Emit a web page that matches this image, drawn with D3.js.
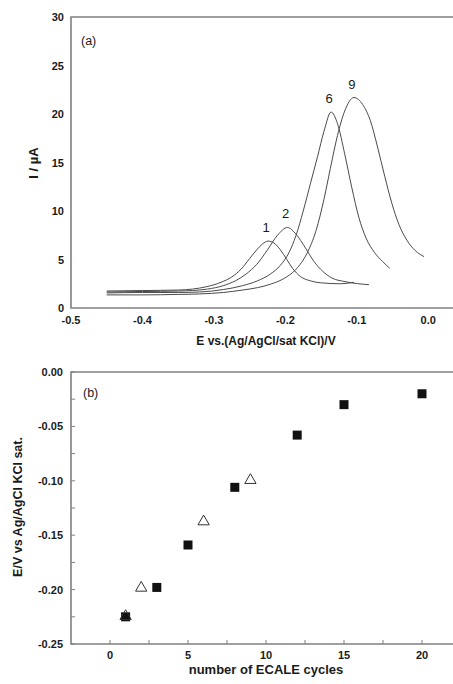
<!DOCTYPE html>
<html>
<head>
<meta charset="utf-8">
<script src="https://cdn.jsdelivr.net/npm/d3@7"></script>
<style>
  body { margin: 0; background: #fff; }
  svg text { font-family: "Liberation Sans", Arial, sans-serif; fill: #1a1a1a; }
</style>
</head>
<body>
<svg id="chart" width="453" height="684"></svg>
<script>
// ---- panel (a): voltammograms, [E (V), I (uA)]
var curve1 = [[-0.45,1.75],[-0.40,1.8],[-0.35,1.85],[-0.33,1.95],[-0.31,2.2],[-0.29,2.65],[-0.275,3.2],
    [-0.262,4.0],[-0.25,5.1],[-0.24,6.0],[-0.232,6.6],[-0.224,6.9],[-0.216,6.7],[-0.207,6.0],[-0.198,5.0],
    [-0.19,4.1],[-0.179,3.25],[-0.165,2.8],[-0.151,2.6],[-0.123,2.5],[-0.104,2.65]];
var curve2 = [[-0.45,1.65],[-0.40,1.7],[-0.35,1.75],[-0.33,1.8],[-0.309,1.95],[-0.287,2.3],[-0.27,2.8],
    [-0.255,3.5],[-0.24,4.5],[-0.225,6.0],[-0.211,7.5],[-0.197,8.3],[-0.185,7.6],[-0.172,6.2],[-0.16,4.8],
    [-0.148,3.8],[-0.135,3.1],[-0.115,2.7],[-0.083,2.4]];
var curve6 = [[-0.45,1.55],[-0.40,1.6],[-0.35,1.6],[-0.32,1.65],[-0.287,1.9],[-0.26,2.3],[-0.239,2.8],
    [-0.221,3.5],[-0.207,4.4],[-0.195,5.7],[-0.185,7.5],[-0.175,10.0],[-0.165,12.8],[-0.155,15.6],
    [-0.146,18.2],[-0.136,20.2],[-0.127,19.0],[-0.117,15.9],[-0.107,12.4],[-0.097,9.3],[-0.087,7.2],
    [-0.075,5.7],[-0.064,4.8],[-0.054,4.1]];
var curve9 = [[-0.45,1.35],[-0.40,1.35],[-0.35,1.4],[-0.32,1.45],[-0.287,1.6],[-0.26,1.85],[-0.239,2.1],
    [-0.221,2.45],[-0.203,3.0],[-0.185,4.0],[-0.17,5.6],[-0.157,8.0],[-0.146,11.2],[-0.137,14.4],
    [-0.127,17.8],[-0.117,20.3],[-0.104,21.7],[-0.092,21.0],[-0.081,19.3],[-0.071,16.6],[-0.061,13.6],
    [-0.051,10.8],[-0.041,8.6],[-0.03,7.0],[-0.018,5.9],[-0.006,5.3]];
var curveNames = ["1", "2", "6", "9"];
var curves = [curve1, curve2, curve6, curve9];
var xTicksA = [-0.5, -0.4, -0.3, -0.2, -0.1, 0.0];
var yTicksA = [0, 5, 10, 15, 20, 25, 30];

// ---- panel (b): peak potential vs number of cycles
var squareCycles = [1, 3, 5, 8, 12, 15, 20];
var squareE = [-0.225, -0.198, -0.159, -0.106, -0.058, -0.030, -0.020];
var triCycles = [1, 2, 6, 9];
var triE = [-0.224, -0.198, -0.137, -0.099];
var xTicksB = [0, 5, 10, 15, 20];
var yTicksB = [0.00, -0.05, -0.10, -0.15, -0.20, -0.25];

var svg = d3.select("#chart");
var axisColor = "#808080";
var fmt = function (d, n) { return d.toFixed(n); };   // plain hyphen minus like the original

/* panel a */
var xa = d3.scaleLinear().domain([-0.5, 0.05]).range([71, 464]);
var ya = d3.scaleLinear().domain([0, 30]).range([308, 17]);

var ga = svg.append("g");
// frame
ga.append("path")
    .attr("d", "M" + xa(0.05) + "," + ya(30) + "H" + xa(-0.5) + "V" + ya(0) + "H" + xa(0.05))
    .attr("fill", "none").attr("stroke", axisColor).attr("stroke-width", 1.6);

ga.selectAll(".xl").data(xTicksA).enter().append("text")
    .attr("x", d => xa(d)).attr("y", ya(0) + 16)
    .attr("text-anchor", "middle").attr("font-size", 11).attr("font-weight", "bold")
    .text(d => fmt(d, 1));
ga.selectAll(".yl").data(yTicksA).enter().append("text")
    .attr("x", xa(-0.5) - 7).attr("y", d => ya(d) + 4)
    .attr("text-anchor", "end").attr("font-size", 11).attr("font-weight", "bold")
    .text(d => d);

var line = d3.line().x(d => xa(d[0])).y(d => ya(d[1])).curve(d3.curveMonotoneX);
ga.selectAll(".cv").data(curves).enter().append("path")
    .attr("d", line).attr("fill", "none").attr("stroke", "#4a4a4a").attr("stroke-width", 1);

ga.selectAll(".cl").data(curves).enter().append("text")
    .attr("x", function (d) { var p = d3.greatest(d, e => e[1]); return xa(p[0]) - 2; })
    .attr("y", function (d) { var p = d3.greatest(d, e => e[1]); return ya(p[1]) - 9; })
    .attr("text-anchor", "middle").attr("font-size", 13).attr("fill", "#333")
    .text((d, i) => curveNames[i]);

ga.append("text").attr("x", 81).attr("y", 45).attr("font-size", 12.5).attr("fill", "#333").text("(a)");
ga.append("text").attr("x", 266).attr("y", 345)
    .attr("text-anchor", "middle").attr("font-size", 12).attr("font-weight", "bold")
    .text("E vs.(Ag/AgCl/sat KCl)/V");
ga.append("text").attr("transform", "translate(38,163) rotate(-90)")
    .attr("text-anchor", "middle").attr("font-size", 13).attr("font-weight", "bold")
    .text("I / µA");

/* panel b */
var xb = d3.scaleLinear().domain([-2.5, 22.5]).range([71, 461]);
var yb = d3.scaleLinear().domain([-0.25, 0]).range([644, 372]);

var gb = svg.append("g");
gb.append("path")
    .attr("d", "M" + xb(22.5) + "," + yb(0) + "H" + xb(-2.5) + "V" + yb(-0.25) + "H" + xb(22.5))
    .attr("fill", "none").attr("stroke", axisColor).attr("stroke-width", 1.6);

// inner ticks (major + minor)
var yMinor = d3.range(0, 11).map(i => -0.025 * i);
gb.selectAll(".yt").data(yMinor).enter().append("line")
    .attr("x1", xb(-2.5)).attr("x2", xb(-2.5) + 4)
    .attr("y1", d => yb(d)).attr("y2", d => yb(d))
    .attr("stroke", axisColor).attr("stroke-width", 1);
var xMinor = d3.range(0, 9).map(i => 2.5 * i);
gb.selectAll(".xt").data(xMinor).enter().append("line")
    .attr("x1", d => xb(d)).attr("x2", d => xb(d))
    .attr("y1", yb(-0.25)).attr("y2", yb(-0.25) - 4)
    .attr("stroke", axisColor).attr("stroke-width", 1);

gb.selectAll(".xl").data(xTicksB).enter().append("text")
    .attr("x", d => xb(d)).attr("y", yb(-0.25) + 15)
    .attr("text-anchor", "middle").attr("font-size", 11).attr("font-weight", "bold")
    .text(d => d);
gb.selectAll(".yl").data(yTicksB).enter().append("text")
    .attr("x", xb(-2.5) - 8).attr("y", d => yb(d) + 4)
    .attr("text-anchor", "end").attr("font-size", 11).attr("font-weight", "bold")
    .text(d => fmt(d, 2));

var sq = 9;
gb.selectAll(".sq").data(squareCycles).enter().append("rect")
    .attr("x", d => xb(d) - sq / 2)
    .attr("y", (d, i) => yb(squareE[i]) - sq / 2)
    .attr("width", sq).attr("height", sq).attr("fill", "#111");

var tri = d3.symbol().type(d3.symbolTriangle).size(55);
gb.selectAll(".tr").data(triCycles).enter().append("path")
    .attr("d", tri)
    .attr("transform", (d, i) => "translate(" + xb(d) + "," + (yb(triE[i]) + 0.5) + ")")
    .attr("fill", "none").attr("stroke", "#333").attr("stroke-width", 1);

gb.append("text").attr("x", 83).attr("y", 397).attr("font-size", 12.5).attr("fill", "#333").text("(b)");
gb.append("text").attr("x", 266).attr("y", 674)
    .attr("text-anchor", "middle").attr("font-size", 13).attr("font-weight", "bold")
    .text("number of ECALE cycles");
gb.append("text").attr("transform", "translate(22,507) rotate(-90)")
    .attr("text-anchor", "middle").attr("font-size", 12.5).attr("font-weight", "bold")
    .text("E/V vs Ag/AgCl KCl sat.");
</script>
</body>
</html>
